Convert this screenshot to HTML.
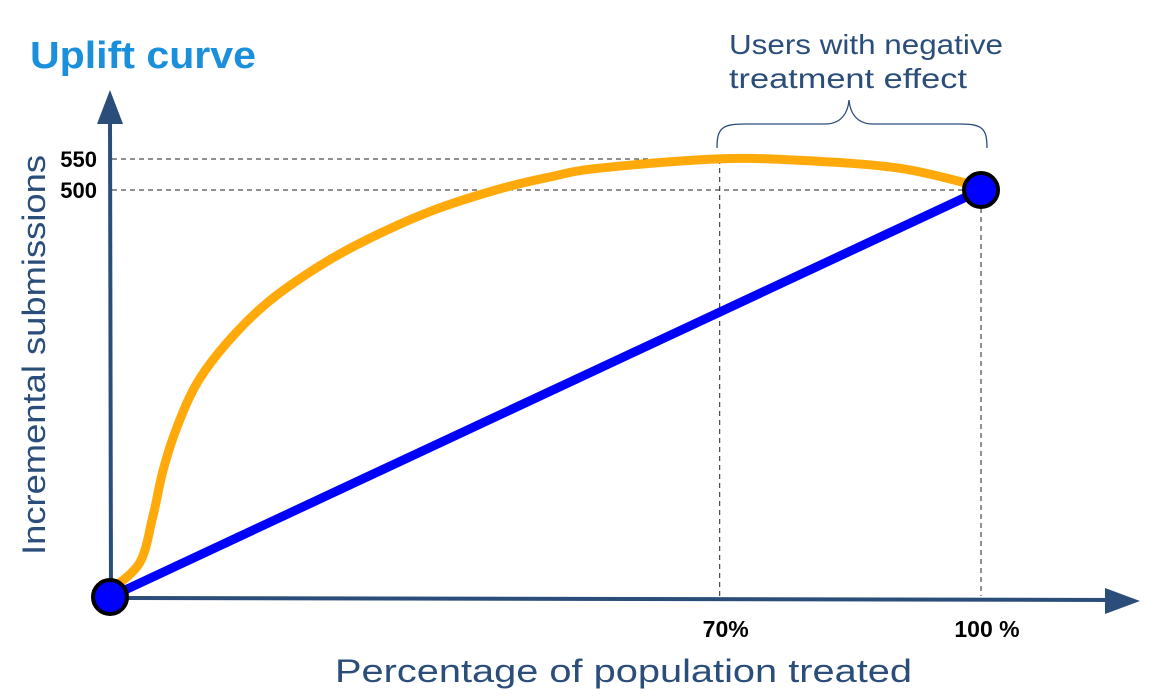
<!DOCTYPE html>
<html><head><meta charset="utf-8"><style>
body{margin:0;background:#fff;}
svg{display:block;font-family:"Liberation Sans",sans-serif;}
</style></head><body>
<svg id="c" width="1161" height="700" viewBox="0 0 1161 700">
<text x="30" y="68" font-size="38" font-weight="bold" fill="#1a8fdc" textLength="226" lengthAdjust="spacingAndGlyphs">Uplift curve</text>
<text transform="translate(45,355) rotate(-90)" text-anchor="middle" font-size="32" fill="#2a4d7a" textLength="400" lengthAdjust="spacingAndGlyphs">Incremental submissions</text>
<text x="335" y="682" font-size="32" fill="#2a4d7a" textLength="577" lengthAdjust="spacingAndGlyphs">Percentage of population treated</text>
<g id="axes"></g>
<g id="guides"></g>
<g id="series"></g>
<path d="M717,148 C717,128 722,124 745,124 L825,124 C842,124 848,112 849,100 C850,112 856,124 873,124 L960,124 C982,124 987,128 987,148" fill="none" stroke="#2a4d7a" stroke-width="1.3"/>
<text x="729" y="54" font-size="28" fill="#2a4d7a" textLength="274" lengthAdjust="spacingAndGlyphs">Users with negative</text>
<text x="729" y="88" font-size="28" fill="#2a4d7a" textLength="238" lengthAdjust="spacingAndGlyphs">treatment effect</text>
</svg>
<script>
const upliftX = [0, 3.4, 4.9, 6.1, 7.7, 10.0, 13.4, 18.0, 23.8, 29.5, 37.1, 44.8, 50.5, 56, 69.5, 79, 90.7, 100];
const upliftY = [8, 42, 98, 156, 209, 263, 312, 361, 405, 439, 475, 502, 521, 535, 550, 548, 535, 505];
const randomX = [0, 100];
const randomY = [0, 500];
const yTicks = [500, 550];
const yTickLabels = ["500", "550"];
const xTicks = [70, 100];
const xTickLabels = ["70%", "100 %"];

const NS = "http://www.w3.org/2000/svg";
function xs(v){ return 110 + v/100*(981-110); }
function ys(v){ return v <= 500 ? 597 - v/500*407 : 190 - (v-500)/50*31; }
function mk(tag, attrs, parent){ const e=document.createElementNS(NS,tag); for(const k in attrs) e.setAttribute(k,attrs[k]); parent.appendChild(e); return e; }

const axes=document.getElementById('axes'), guides=document.getElementById('guides'), series=document.getElementById('series');
const AX="#2a4d7a";
let a=mk('line',{x1:110,y1:598,x2:1115,y2:600,stroke:AX,'stroke-width':4},axes);
 
a=mk('polygon',{points:"1140,601 1105,588 1105,614",fill:AX},axes);
 
a=mk('line',{x1:111,y1:598,x2:110,y2:112,stroke:AX,'stroke-width':4},axes);
 
a=mk('polygon',{points:"110,90 97,124 123,124",fill:AX},axes);
 

yTicks.forEach((t,i)=>{
  const y=ys(t);
  let l=mk('line',{x1:112,y1:y,x2:i==0?981:715,y2:y,stroke:"#222",'stroke-width':1,'stroke-dasharray':"5,4"},guides);
   
  let tx=mk('text',{x:97,y:y+8,'text-anchor':'end','font-size':22,'font-weight':'bold',fill:'#000'},axes);
  tx.textContent=yTickLabels[i];
   
});
xTicks.forEach((t,i)=>{
  const x=xs(t);
  let l=mk('line',{x1:x,y1:i==0?ys(550):ys(500),x2:x,y2:596,stroke:"#222",'stroke-width':1,'stroke-dasharray':"5,4"},guides);
   
  let tx=mk('text',{x:x+6,y:637,'text-anchor':'middle','font-size':23,'font-weight':'bold',fill:'#000'},axes);
  tx.textContent=xTickLabels[i];
   
});

function smooth(px,py){
  const p=px.map((v,i)=>[xs(v),ys(py[i])]);
  let d="M"+p[0][0]+","+p[0][1];
  for(let i=0;i<p.length-1;i++){
    const p0=p[i-1]||p[i],p1=p[i],p2=p[i+1],p3=p[i+2]||p2;
    d+=" C"+(p1[0]+(p2[0]-p0[0])/6)+","+(p1[1]+(p2[1]-p0[1])/6)+" "+(p2[0]-(p3[0]-p1[0])/6)+","+(p2[1]-(p3[1]-p1[1])/6)+" "+p2[0]+","+p2[1];
  }
  return d;
}
let up=mk('path',{d:smooth(upliftX,upliftY),fill:'none',stroke:'#ffaa0a','stroke-width':9,'stroke-linecap':'round'},series);
 
let rl=mk('line',{x1:xs(randomX[0]),y1:ys(randomY[0]),x2:xs(randomX[1]),y2:ys(randomY[1]),stroke:'#0000ff','stroke-width':9},series);
 
randomX.forEach((v,i)=>{
  let c=mk('circle',{cx:xs(v),cy:ys(randomY[i]),r:17,fill:'#0000ff',stroke:'#000','stroke-width':4},series);
   
});
</script>
</body></html>
